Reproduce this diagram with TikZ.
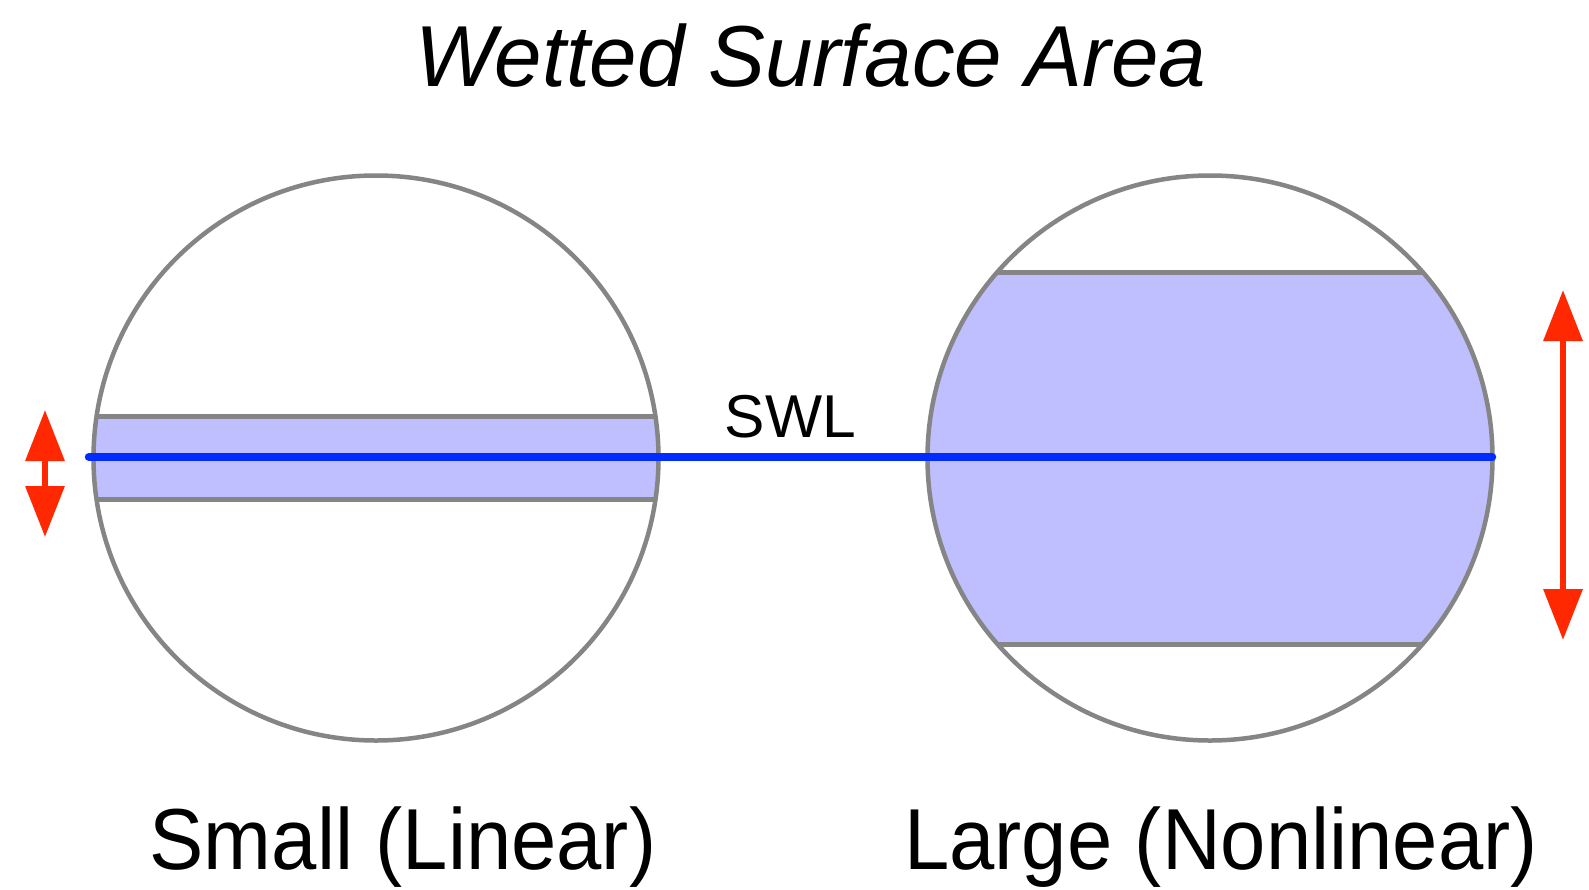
\documentclass[tikz,border=0pt]{standalone}
\usepackage{fontspec}
\setmainfont{Liberation Sans}
\newfontfamily\lblfont[FakeStretch=0.94]{Liberation Sans}
\newfontfamily\ttlfont[FakeStretch=0.985]{Liberation Sans Italic}
\usetikzlibrary{arrows.meta}
\definecolor{rimgray}{RGB}{133,133,133}
\definecolor{bandfill}{RGB}{191,191,255}
\definecolor{swlblue}{RGB}{0,44,255}
\definecolor{arrred}{RGB}{255,40,0}
\tikzset{
  rim/.style={draw=rimgray, line width=4.5pt},
  chord/.style={draw=rimgray, line width=5.5pt},
  band/.style={fill=bandfill},
  swl/.style={draw=swlblue, line width=8.5pt, line cap=round},
  motion/.style={draw=arrred, line width=6.5pt, {Triangle[length=51pt,width=38pt]}-{Triangle[length=51pt,width=38pt]}},
  caption/.style={inner sep=0pt, anchor=base, font=\lblfont\fontsize{86.6}{100}\selectfont},
}
\begin{document}
\begin{tikzpicture}[x=1pt,y=-1pt]
\fill[white] (0,0) rectangle (1589,889);
\useasboundingbox (0,0) rectangle (1589,889);
\coordinate (Lc) at (376,458);
\coordinate (Rc) at (1210,458);
% left: small band
\begin{scope}
  \clip (Lc) circle[radius=282.5pt];
  \fill[band] (0,416.5) rectangle (1589,499.5);
\end{scope}
\draw[chord] (96.6,416.5) -- (655.4,416.5);
\draw[chord] (96.6,499.5) -- (655.4,499.5);
\draw[rim] (Lc) circle[radius=282.5pt];
% right: large band
\begin{scope}
  \clip (Rc) circle[radius=282.5pt];
  \fill[band] (0,272.5) rectangle (1589,644.5);
\end{scope}
\draw[chord] (997.4,272.5) -- (1422.6,272.5);
\draw[chord] (997.4,644.5) -- (1422.6,644.5);
\draw[rim] (Rc) circle[radius=282.5pt];
% SWL
\coordinate (swlA) at (89,457);
\coordinate (swlB) at (1492,457);
\draw[swl] (swlA) -- (swlB);
\node[inner sep=0pt, anchor=base, font=\fontsize{60.5}{70}\selectfont] (swllabel) at (790.5,437.5) {SWL};
% arrows
\coordinate (la1) at (45,410);
\coordinate (la2) at (45,537);
\draw[motion] (la1) -- (la2);
\coordinate (ra1) at (1563,290);
\coordinate (ra2) at (1563,640);
\draw[motion] (ra1) -- (ra2);
% texts
\node[inner sep=0pt, anchor=base, font=\ttlfont\fontsize{86.6}{100}\selectfont] (title) at (811,86.5) {Wetted Surface Area};
\node[caption] (small) at (403,869.5) {Small (Linear)};
\node[caption] (large) at (1221,869.5) {Large (Nonlinear)};
\end{tikzpicture}
\end{document}
